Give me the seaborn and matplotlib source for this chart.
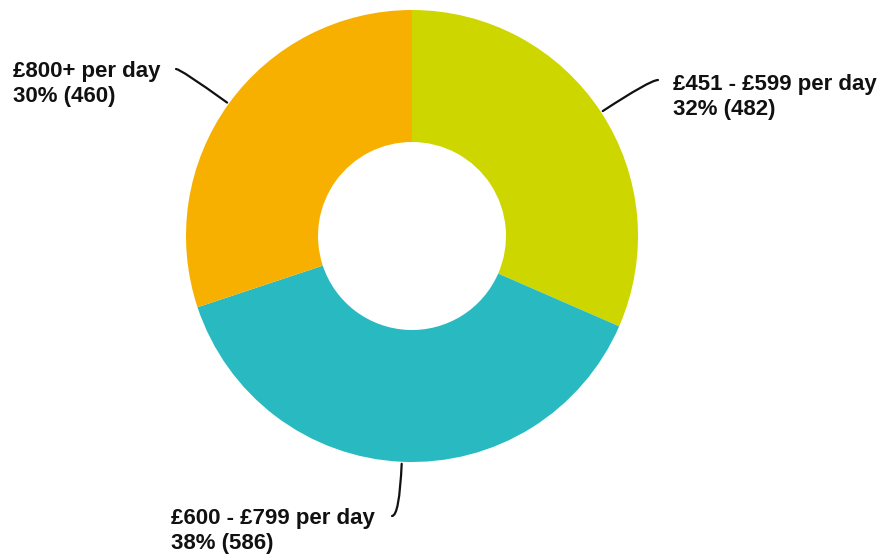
import numpy as np
import matplotlib
matplotlib.use("Agg")
import matplotlib.pyplot as plt
from matplotlib.path import Path
from matplotlib.patches import PathPatch
import seaborn as sns

categories = ["£451 - £599 per day", "£600 - £799 per day", "£800+ per day"]
counts = [482, 586, 460]
percent_labels = ["32%", "38%", "30%"]
colors = ["#CED600", "#29B9C1", "#F8B000"]

sns.set_theme(style="white")
plt.rcParams['font.family'] = ['Liberation Sans', 'DejaVu Sans']

W, H = 884, 556
fig = plt.figure(figsize=(W / 100, H / 100), dpi=100)
ax = fig.add_axes([0, 0, 1, 1])

cx, cy_img = 412, 236
R, hole = 226, 94
center = (cx, H - cy_img)

wedges, _ = ax.pie(counts, colors=colors, startangle=90, counterclock=False,
                   radius=R, center=center,
                   wedgeprops=dict(width=R - hole, linewidth=0))
ax.set_xlim(0, W)
ax.set_ylim(0, H)
ax.set_aspect('equal')
ax.axis('off')

# label layout (image pixel coords): text x, line1 baseline, line2 baseline, ha, leader end
layout = [
    dict(x=673, b1=90, b2=115, ha='left', end=(658, 80)),
    dict(x=171, b1=524, b2=549, ha='left', end=(392, 516)),
    dict(x=13, b1=77, b2=102, ha='left', end=(176, 69)),
]

fs = 16
for w, cat, pct, n, L in zip(wedges, categories, percent_labels, counts, layout):
    ax.text(L['x'], H - L['b1'], cat, ha=L['ha'], va='baseline', fontsize=fs,
            fontweight='bold', color='#111111')
    ax.text(L['x'], H - L['b2'], f"{pct} ({n})", ha=L['ha'], va='baseline',
            fontsize=fs, fontweight='bold', color='#111111')
    mid = np.deg2rad((w.theta1 + w.theta2) / 2)
    d = np.array([np.cos(mid), np.sin(mid)])
    p0 = np.array(center) + (R + 2) * d
    ex, ey = L['end'][0], H - L['end'][1]
    t = (ey - p0[1]) / d[1]
    p1 = p0 + t * d
    path = Path([tuple(p0), tuple(p1), (ex, ey)],
                [Path.MOVETO, Path.CURVE3, Path.CURVE3])
    ax.add_patch(PathPatch(path, fill=False, lw=1.6, color='#111111',
                           capstyle='round'))

fig.savefig("out.png", dpi=100, facecolor='white')
